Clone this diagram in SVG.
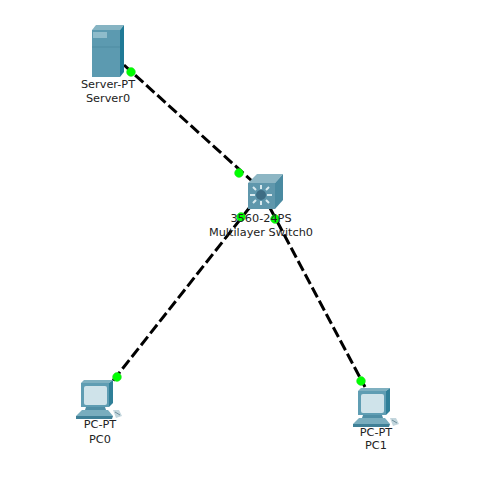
<svg xmlns="http://www.w3.org/2000/svg" width="504" height="478" viewBox="0 0 504 478">
<style>
.l{font:11.3px "DejaVu Sans","Liberation Sans",sans-serif;fill:#222;text-anchor:middle}
.c{stroke:#000;stroke-width:3;stroke-dasharray:11 4;fill:none}
.d{fill:#0f0;stroke:#2d2;stroke-width:.5}
</style>
<defs>
<g id="pc">
<path d="M5 -1L8 -4H37L33 -1Z" fill="#7fb0c0"/>
<path d="M5 -1H33V23H5Z" fill="#5f9db3"/>
<path d="M33 -1L37 -4V19L33 23Z" fill="#2f7f98"/>
<rect x="8" y="2" width="23" height="19" rx="2" fill="#cfe3ea"/>
<path d="M10 23H29L30 26H9Z" fill="#4f8ea5"/>
<path d="M6 26H32L37 32H0Z" fill="#79adbe"/>
<path d="M0 32H37L36 35H0Z" fill="#3f8097"/>
<path d="M37 26L43 26L46 32L40 34Z" fill="#c3d6dd"/>
<path d="M39 28L44 31" stroke="#6f8f9c" fill="none"/>
</g>
</defs>
<rect width="504" height="478" fill="#fff"/>
<g id="connectors">
<path class="c" d="M124 65L252 181"/>
<path class="c" d="M250 207L112 382"/>
<path class="c" d="M270 208L365 387"/>
</g>
<g id="link-lights">
<circle class="d" cx="131" cy="72" r="4.4"/>
<circle class="d" cx="239" cy="173" r="4.4"/>
<circle class="d" cx="241" cy="217" r="4.4"/>
<circle class="d" cx="275" cy="219" r="4.4"/>
<circle class="d" cx="117" cy="377" r="4.4"/>
<circle class="d" cx="361" cy="381" r="4.4"/>
</g>
<g id="server0">
<path d="M92 30L96 25H124L120 30Z" fill="#86b4c3"/>
<path d="M92 30H120V77H92Z" fill="#5c9ab0"/>
<path d="M120 30L124 25V72L120 77Z" fill="#1f7a96"/>
<path d="M93 32H107V38H93Z" fill="#8fbccb"/>
<path d="M92 47H120" stroke="#4f8ca2" fill="none"/>
<text class="l" x="108" y="88">Server-PT</text>
<text class="l" x="108" y="102">Server0</text>
</g>
<g id="switch0">
<path d="M248 183L257 174H283L275 183Z" fill="#8db6c4"/>
<path d="M248 183H275V209H248Z" fill="#5f97ac"/>
<path d="M275 183L283 174V200L275 209Z" fill="#4a8aa1"/>
<circle cx="261" cy="195" r="5" fill="#3e6d84"/>
<path d="M261 185V189M261 201V205M250 195H255M267 195H272M253 187L256 190M269 187L266 190M253 203L256 200M269 203L266 200" stroke="#d8e9ee" stroke-width="2" fill="none"/>
<text class="l" x="261" y="222">3560-24PS</text>
<text class="l" x="261" y="236">Multilayer Switch0</text>
</g>
<g id="pc0">
<use href="#pc" x="76" y="384"/>
<text class="l" x="100" y="428">PC-PT</text>
<text class="l" x="100" y="443">PC0</text>
</g>
<g id="pc1">
<use href="#pc" x="353" y="392"/>
<text class="l" x="376" y="436">PC-PT</text>
<text class="l" x="376" y="449">PC1</text>
</g>
</svg>
